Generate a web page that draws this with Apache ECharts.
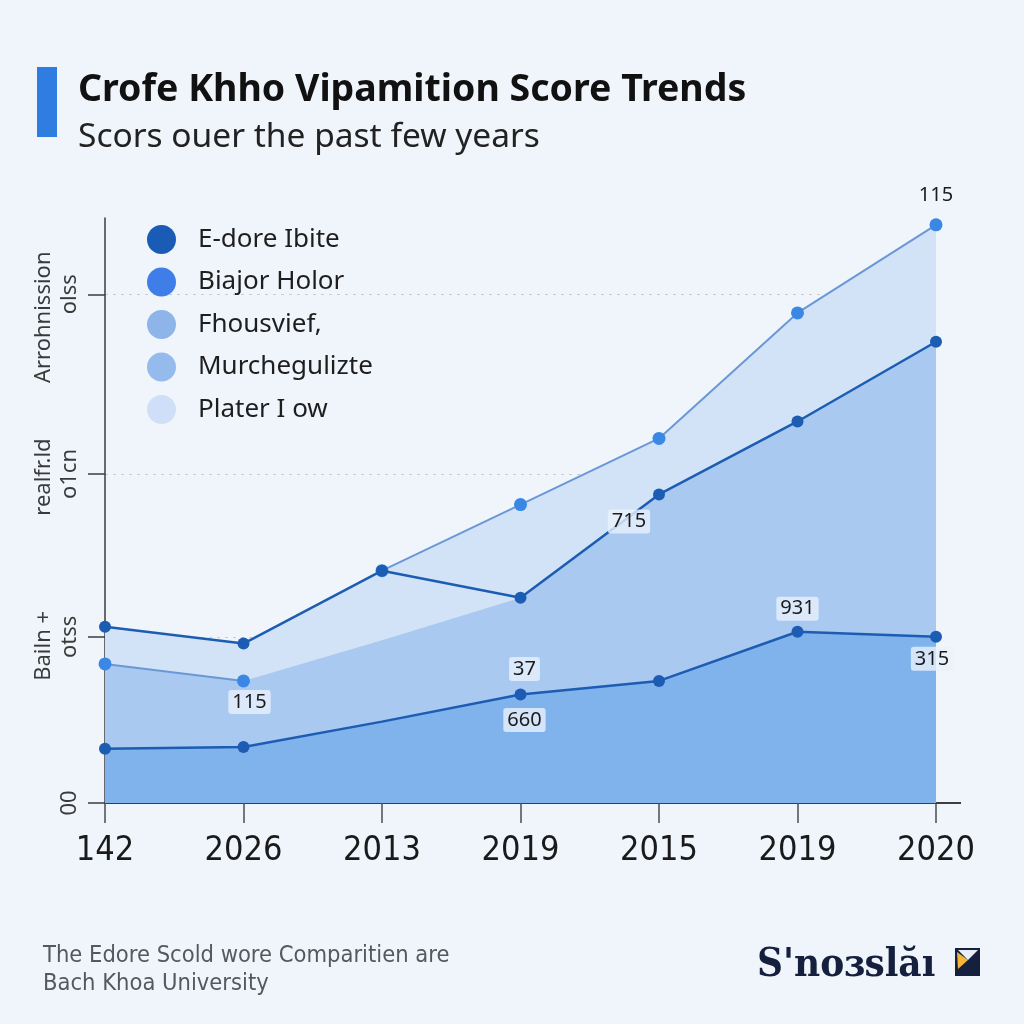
<!DOCTYPE html>
<html><head><meta charset="utf-8">
<script src="https://cdn.jsdelivr.net/npm/echarts@6/dist/echarts.min.js"></script>
<style>html,body{margin:0;padding:0;background:#f0f5fb;}#c{width:1024px;height:1024px;}</style>
</head><body><div id="c"></div>
<script>
// ---- data ----
const categories = ['142', '2026', '2013', '2019', '2015', '2019', '2020'];
const platerLow = [104, 94, 137, 176, 215, 289, 341];          // lightest band (top envelope)
const murchegulizte = [82, 72, 96, 121, 182, 225, 272];        // medium band
const biajorHolor = [32, 33, 48, 64, 72, 101, 98];             // bottom line + darkest band
const fhousviefA = [82, 72, '-', '-', '-', '-', '-'];          // light line, first segment
const fhousviefB = ['-', '-', 137, 176, 215, 289, 341];        // light line, second segment
const edoreIbite = [104, 94, 137, 121, 182, 225, 272];         // dark line
const fhousviefBLabels = ['', '', '', '', '', '', '115'];
const fhousviefALabels = ['', '115', '', '', '', '', ''];
const edoreLabels = ['', '', '', '', '715', '', ''];
const biajorLabelsTop = ['', '', '', '37', '', '931', ''];
const biajorLabelsBottom = ['', '', '', '660', '', '', '315'];
const yTickValues = [0, 98, 194, 300];
const yTickLabels = ['00', 'otss', 'o1cn', 'olss'];
const yTickNames = ['', 'Bailn +', 'realfr.ld', 'Arrohnission'];
const legendNames = ['E-dore Ibite', 'Biajor Holor', 'Fhousvief,', 'Murchegulizte', 'Plater I ow'];
const legendColors = ['#1a5cb5', '#3f7ee8', '#8db5ea', '#95bbec', '#cfdff7'];

const DARK = '#1c5db3', LIGHTDOT = '#3a87e5', LIGHTLINE = '#6a98d6';
const labelBox = {backgroundColor: 'rgba(232,241,252,0.8)', borderRadius: 3, padding: [2, 4]};
const labelFont = {fontSize: 20, color: '#1b1b1b', fontFamily: 'Noto Sans'};

function withLabels(values, labels, offsets, box) {
  return values.map((v, i) => {
    if (!labels[i]) return v;
    return {value: v, label: Object.assign({show: true, formatter: labels[i], position: 'inside',
      offset: offsets[i]}, labelFont, box ? labelBox : {})};
  });
}

const biajorData = biajorHolor.map((v, i) => {
  const item = {value: v};
  if (i === 2) item.symbolSize = 0;
  const t = biajorLabelsTop[i], b = biajorLabelsBottom[i];
  if (t && b) {
    item.label = {show: true, position: 'inside', offset: [4, 0],
      formatter: '{a|' + t + '}\n{g| }\n{a|' + b + '}',
      rich: {a: Object.assign({lineHeight: 24}, labelFont, labelBox), g: {lineHeight: 27, fontSize: 10}}};
  } else if (t) {
    item.label = Object.assign({show: true, position: 'inside', formatter: t, offset: [0, -23]}, labelFont, labelBox);
  } else if (b) {
    item.label = Object.assign({show: true, position: 'inside', formatter: b, offset: [-4, 22]}, labelFont, labelBox);
  }
  return item;
});

// shift of the outer y names along the axis (rich padding on the right moves them down on screen)
const yNameShift = [0, 18, 6, 46];

const chart = echarts.init(document.getElementById('c'), null, {renderer: 'canvas'});
chart.setOption({
  backgroundColor: '#f0f5fb',
  animation: false,
  textStyle: {fontFamily: 'Noto Sans'},
  title: [
    {text: 'Crofe Khho Vipamition Score Trends', subtext: 'Scors ouer the past few years',
     left: 73, top: 66, itemGap: 11,
     textStyle: {fontSize: 37.5, fontWeight: 'bold', color: '#111', fontFamily: 'Noto Sans'},
     subtextStyle: {fontSize: 33.5, color: '#222', fontFamily: 'Noto Sans'}},
    {text: 'The Edore Scold wore Comparitien are\nBach Khoa University', left: 38, top: 937,
     textStyle: {fontSize: 23.5, fontWeight: 'normal', color: '#55585e', lineHeight: 28,
       fontFamily: 'Liberation Sans Narrow, DejaVu Sans Condensed, sans-serif'}},
    {text: "S'noɜslăı", left: 752, top: 941,
     textStyle: {fontSize: 40, fontWeight: 'bold', color: '#14203d', fontFamily: 'DejaVu Serif Condensed, DejaVu Serif, serif'}}
  ],
  graphic: [
    {type: 'rect', shape: {x: 37, y: 67, width: 20, height: 70}, style: {fill: '#2f7de0'}},
    {type: 'line', shape: {x1: 936, y1: 803, x2: 961, y2: 803}, style: {stroke: '#3a3d42', lineWidth: 2}},
    {type: 'rect', shape: {x: 955, y: 948, width: 25, height: 28}, style: {fill: '#14203d'}},
    {type: 'polygon', shape: {points: [[957, 952], [968, 960], [958, 969]]}, style: {fill: '#f3b53a'}},
    {type: 'polygon', shape: {points: [[958, 950], [978, 950], [968, 960]]}, style: {fill: '#e8eef6'}}
  ],
  legend: {
    orient: 'vertical', left: 142, top: 220, itemWidth: 29, itemHeight: 29, itemGap: 13.5,
    icon: 'circle', selectedMode: false,
    textStyle: {fontSize: 26, color: '#1e1e1e', fontFamily: 'Noto Sans', padding: [0, 0, 0, 17]},
    data: legendNames.map((n, i) => ({name: n, itemStyle: {color: legendColors[i], borderWidth: 0}}))
  },
  grid: {left: 105, right: 88, top: 218, bottom: 221},
  xAxis: {
    type: 'category', data: categories, boundaryGap: false,
    axisLine: {lineStyle: {color: '#3a3d42', width: 2}},
    axisTick: {show: true, length: 20, lineStyle: {color: '#4a4d52', width: 1.5}},
    axisLabel: {fontSize: 34, color: '#1a1a1a', margin: 31,
      fontFamily: 'Liberation Sans Narrow, DejaVu Sans Condensed, sans-serif'},
    splitLine: {show: false}
  },
  yAxis: {
    type: 'value', min: 0, max: 345,
    axisLine: {show: true, lineStyle: {color: '#3a3d42', width: 1.5}},
    axisTick: {show: true, length: 17, customValues: yTickValues, lineStyle: {color: '#3a3d42', width: 1.5}},
    axisLabel: {customValues: yTickValues, rotate: 90, margin: 22, fontSize: 22, lineHeight: 26,
      color: '#3a3a3a',
      rich: {
        n0: {fontSize: 22, color: '#3a3a3a', lineHeight: 26},
        n1: {fontSize: 22, color: '#3a3a3a', lineHeight: 26, padding: [0, yNameShift[1], 0, 0]},
        n2: {fontSize: 22, color: '#3a3a3a', lineHeight: 26, padding: [0, yNameShift[2], 0, 0]},
        n3: {fontSize: 22, color: '#3a3a3a', lineHeight: 26, padding: [0, yNameShift[3], 0, 0]},
        t: {fontSize: 22, color: '#3a3a3a', lineHeight: 26}
      },
      formatter: v => {
        const i = yTickValues.indexOf(v);
        if (i < 0) return '';
        return yTickNames[i] ? '{n' + i + '|' + yTickNames[i] + '}\n{t|' + yTickLabels[i] + '}' : '{t|' + yTickLabels[i] + '}';
      }},
    splitLine: {show: true, lineStyle: {color: '#c9ccd2', type: [3, 5], width: 1}}
  },
  series: [
    {name: 'Plater I ow', type: 'line', data: platerLow, showSymbol: false, symbol: 'none',
     lineStyle: {width: 0}, areaStyle: {color: '#d3e3f7', opacity: 1}, color: '#cfdff7', z: 1},
    {name: 'Murchegulizte', type: 'line', data: murchegulizte, showSymbol: false, symbol: 'none',
     lineStyle: {width: 0}, areaStyle: {color: '#a9c9f1', opacity: 1}, color: '#95bbec', z: 2},
    {name: 'Biajor Holor', type: 'line', data: biajorData, symbol: 'circle', symbolSize: 12,
     itemStyle: {color: DARK}, lineStyle: {color: DARK, width: 2.5},
     areaStyle: {color: '#80b2eb', opacity: 1}, z: 3},
    {name: 'Fhousvief,', type: 'line', data: withLabels(fhousviefA, fhousviefALabels, [0, [6, 21], 0, 0, 0, 0, 0], true),
     symbol: 'circle', symbolSize: 13, itemStyle: {color: LIGHTDOT}, lineStyle: {color: LIGHTLINE, width: 2}, z: 4},
    {name: 'Fhousvief,', type: 'line', data: withLabels(fhousviefB, fhousviefBLabels, [0, 0, 0, 0, 0, 0, [0, -29]], false),
     symbol: 'circle', symbolSize: 13, itemStyle: {color: LIGHTDOT}, lineStyle: {color: LIGHTLINE, width: 2}, z: 4},
    {name: 'E-dore Ibite', type: 'line', data: withLabels(edoreIbite, edoreLabels, [0, 0, 0, 0, [-30, 27], 0, 0], true),
     symbol: 'circle', symbolSize: 12, itemStyle: {color: DARK}, lineStyle: {color: DARK, width: 2.5}, z: 5}
  ]
});
</script></body></html>
